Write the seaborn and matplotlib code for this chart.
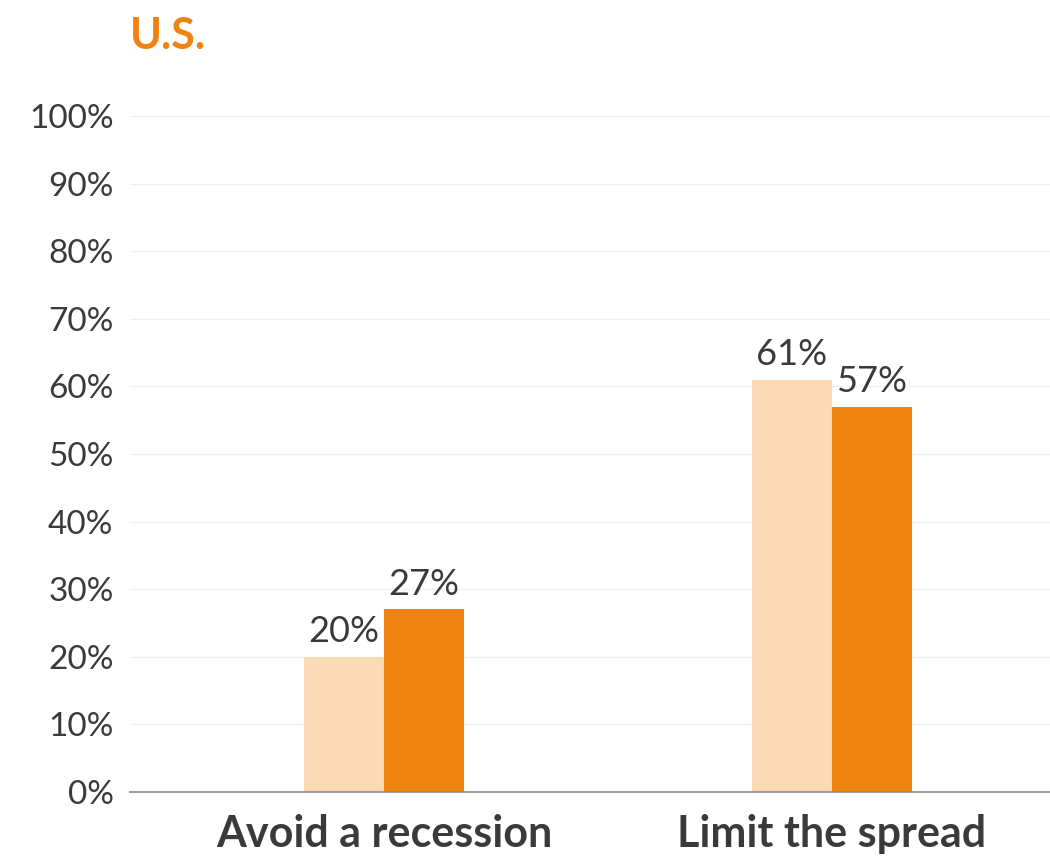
import pandas as pd
import numpy as np
import matplotlib
matplotlib.use('Agg')
import matplotlib.pyplot as plt
import seaborn as sns

# ── DATA ─────────────────────────────────────────────────────────────────────
categories = ['Avoid a recession', 'Limit the spread']
series_names = ['Earlier', 'Latest']
values_earlier = [20, 61]
values_latest = [27, 57]
y_ticks = [0, 10, 20, 30, 40, 50, 60, 70, 80, 90, 100]

df = pd.DataFrame({
    'category': categories * 2,
    'series': [series_names[0]] * 2 + [series_names[1]] * 2,
    'value': values_earlier + values_latest,
})

# ── STYLE ────────────────────────────────────────────────────────────────────
sns.set_style('white')
plt.rcParams['font.family'] = ['Lato', 'DejaVu Sans']
TEXT = '#3a3a3a'
palette = {'Earlier': '#F9DAB5', 'Latest': '#F0820F'}

fig = plt.figure(figsize=(10.5, 8.65), dpi=100)
ax = fig.add_axes([0.124, 0.0844, 0.876, 0.7815])

sns.barplot(data=df, x='category', y='value', hue='series', order=categories,
            hue_order=series_names, palette=palette, width=0.357,
            saturation=1, linewidth=0, ax=ax, legend=False)

for cont in ax.containers:
    ax.bar_label(cont, labels=[f'{v:.0f}%' for v in cont.datavalues],
                 padding=6, fontsize=26, color=TEXT)

ax.set_ylim(0, 100)
ax.set_xlim(-0.567, 1.487)
ax.set_yticks(y_ticks)
ax.set_yticklabels([f'{t}%' for t in y_ticks], fontsize=24, color=TEXT)
ax.tick_params(axis='y', length=0, pad=12)
ax.tick_params(axis='x', length=0, pad=16)
for lbl in ax.get_xticklabels():
    lbl.set_fontsize(31)
    lbl.set_fontweight('bold')
    lbl.set_color(TEXT)
ax.set_xlabel('')
ax.set_ylabel('')

ax.yaxis.grid(True, color='#f0f0f0', linewidth=1)
ax.set_axisbelow(True)
for side in ['top', 'right', 'left']:
    ax.spines[side].set_visible(False)
ax.spines['bottom'].set_color('#8a8a8a')
ax.spines['bottom'].set_linewidth(1.2)

fig.text(0.124, 0.958, 'U.S.', fontsize=31, fontweight='bold',
         color='#F0820F', ha='left', va='center')

plt.savefig('out.png', dpi=100)
plt.close()
